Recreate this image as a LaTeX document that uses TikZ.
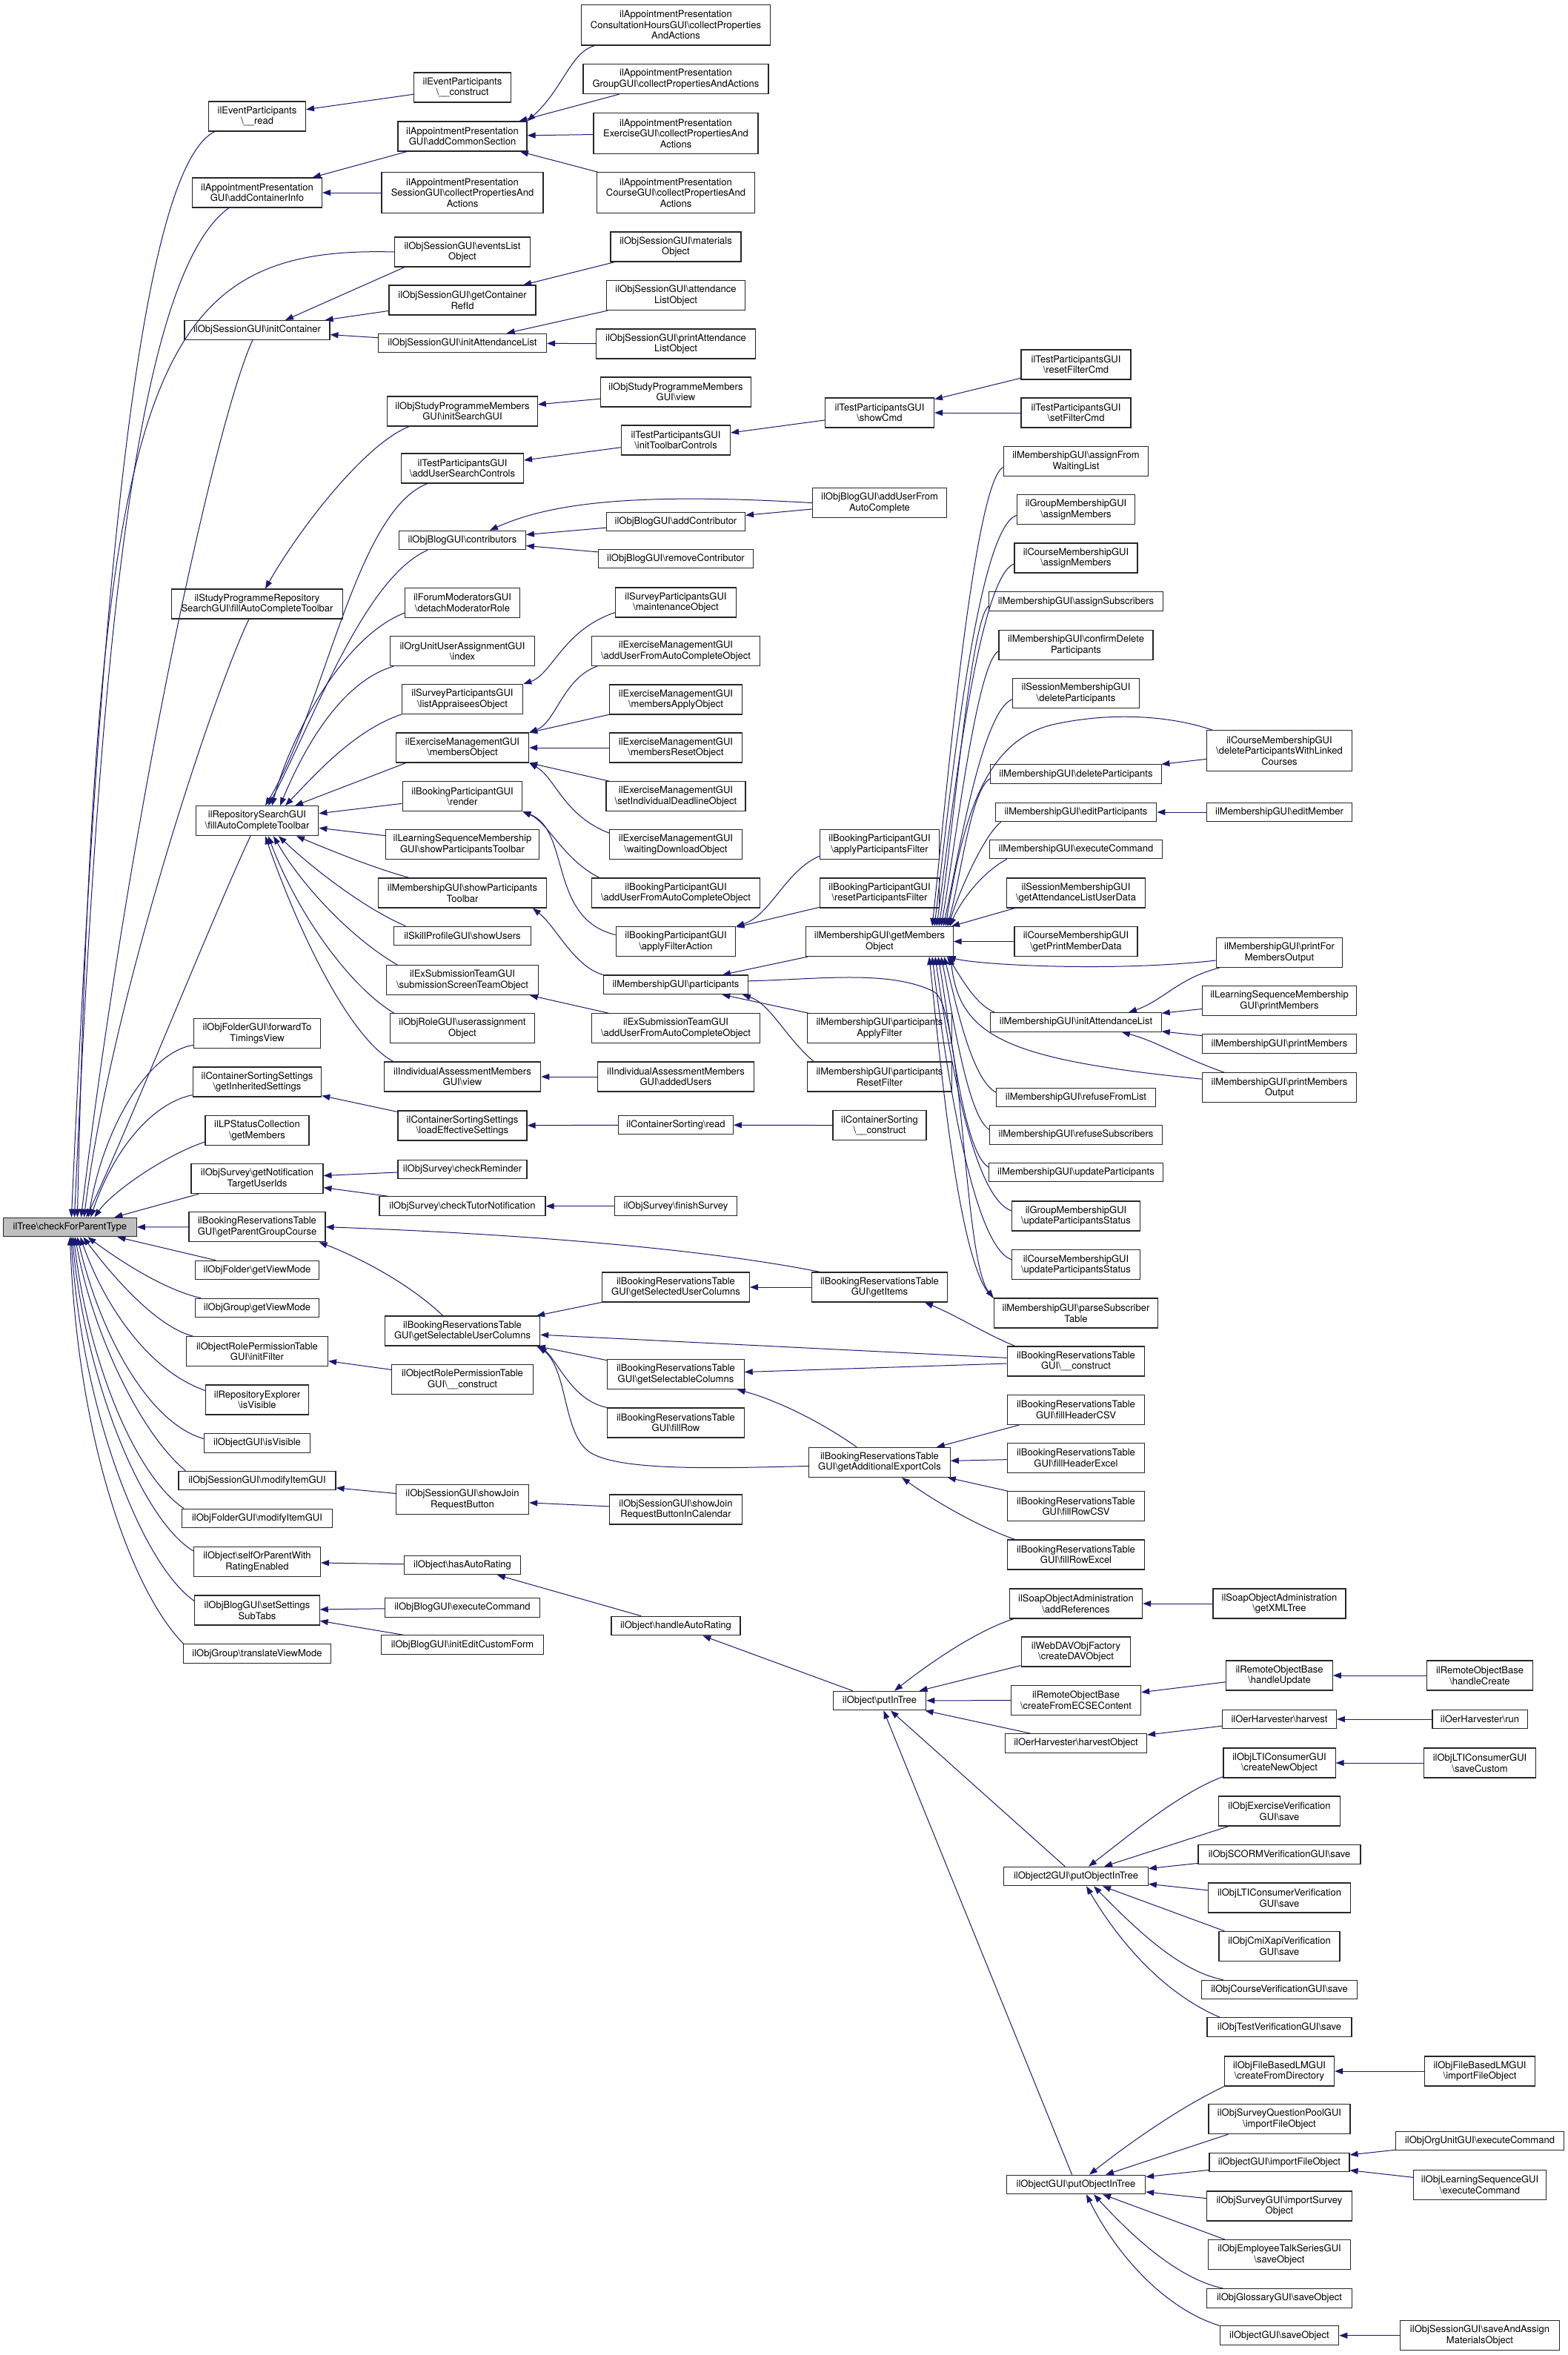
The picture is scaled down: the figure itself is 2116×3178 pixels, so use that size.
\documentclass[tikz,border=0pt]{standalone}
\usepackage{fontspec}
\setmainfont{TeX Gyre Heros}
\usetikzlibrary{arrows.meta,calc}
\newcommand{\bsl}{\textbackslash}
\definecolor{edgeblue}{RGB}{25,25,112}
\definecolor{rootgray}{RGB}{191,191,191}
\newcommand{\nd}[6]{\node[box,#5,minimum width=#4pt] (#1) at (#2,-#3) {#6};}
\begin{document}
\begin{tikzpicture}[x=1pt,y=1pt,
  box/.style={draw=black!85, line width=1.1pt, fill=white, inner xsep=4pt, inner ysep=2pt, align=center, font=\fontsize{13}{14.5}\selectfont},
  n1/.style={minimum height=25.6pt},
  n2/.style={minimum height=40pt},
  n3/.style={minimum height=54.5pt},
  e/.style={draw=edgeblue, line width=1pt, >={Triangle[length=11pt,width=8pt]}, <-},
]
\fill[white] (0,0) rectangle (2116,-3178);
\useasboundingbox (0,0) rectangle (2116,-3178);

% column 1
\nd{root}{94.4}{1656}{179.8}{n1,fill=rootgray}{ilTree\bsl checkForParentType}
% column 2
\nd{EvRead}{347}{157}{131}{n2}{ilEventParticipants\\\bsl\_\_read}
\nd{AddContainer}{347}{260}{175}{n2}{ilAppointmentPresentation\\GUI\bsl addContainerInfo}
\nd{InitContainer}{347}{445.3}{196}{n1}{ilObjSessionGUI\bsl initContainer}
\nd{StudyProgRepoSearch}{347}{815}{231}{n2}{ilStudyProgrammeRepository\\SearchGUI\bsl fillAutoCompleteToolbar}
\nd{RepoSearchFill}{347}{1107.7}{165.7}{n2}{ilRepositorySearchGUI\\\bsl fillAutoCompleteToolbar}
\nd{FolderForward}{347}{1394.7}{171}{n2}{ilObjFolderGUI\bsl forwardTo\\TimingsView}
\nd{ContSortInherited}{347}{1460}{173.4}{n2}{ilContainerSortingSettings\\\bsl getInheritedSettings}
\nd{LPStatusGetMembers}{347}{1525.4}{140}{n2}{ilLPStatusCollection\\\bsl getMembers}
\nd{SurveyGetNotification}{347}{1590.6}{178}{n2}{ilObjSurvey\bsl getNotification\\TargetUserIds}
\nd{BookingGetParentGroup}{347}{1655.7}{184}{n2}{ilBookingReservationsTable\\GUI\bsl getParentGroupCourse}
\nd{FolderGetViewMode}{347}{1714}{167}{n1}{ilObjFolder\bsl getViewMode}
\nd{GroupGetViewMode}{347}{1765}{167}{n1}{ilObjGroup\bsl getViewMode}
\nd{ObjRolePermInitFilter}{347}{1823.5}{191}{n2}{ilObjectRolePermissionTable\\GUI\bsl initFilter}
\nd{RepoExplorerIsVisible}{347}{1889}{139}{n2}{ilRepositoryExplorer\\\bsl isVisible}
\nd{ObjectGUIIsVisible}{347}{1947.5}{143.5}{n1}{ilObjectGUI\bsl isVisible}
\nd{SessionModifyItem}{347}{1998}{212}{n1}{ilObjSessionGUI\bsl modifyItemGUI}
\nd{FolderModifyItem}{347}{2049}{202.4}{n1}{ilObjFolderGUI\bsl modifyItemGUI}
\nd{ObjectSelfOrParent}{347}{2107.6}{171}{n2}{ilObject\bsl selfOrParentWith\\RatingEnabled}
\nd{BlogSetSettingsSubTabs}{347}{2173}{168.4}{n2}{ilObjBlogGUI\bsl setSettings\\SubTabs}
\nd{GroupTranslateViewMode}{347}{2231.6}{199.5}{n1}{ilObjGroup\bsl translateViewMode}
% column 3
\nd{EvConstruct}{624}{118}{131}{n2}{ilEventParticipants\\\bsl\_\_construct}
\nd{AddCommon}{624}{184}{174}{n2}{ilAppointmentPresentation\\GUI\bsl addCommonSection}
\nd{SessionCollect}{624}{260}{218}{n3}{ilAppointmentPresentation\\SessionGUI\bsl collectPropertiesAnd\\Actions}
\nd{EventsList}{624}{340}{183}{n2}{ilObjSessionGUI\bsl eventsList\\Object}
\nd{GetContainerRef}{624}{405}{198}{n2}{ilObjSessionGUI\bsl getContainer\\RefId}
\nd{InitAttendance}{624}{463}{227}{n1}{ilObjSessionGUI\bsl initAttendanceList}
\nd{StudyProgMembers}{624}{555}{202.5}{n2}{ilObjStudyProgrammeMembers\\GUI\bsl initSearchGUI}
\nd{TestAddUserSearch}{624}{632}{165}{n2}{ilTestParticipantsGUI\\\bsl addUserSearchControls}
\nd{BlogContributors}{624}{729}{170.6}{n1}{ilObjBlogGUI\bsl contributors}
\nd{ForumDetach}{624}{813.5}{154.5}{n2}{ilForumModeratorsGUI\\\bsl detachModeratorRole}
\nd{OrgUnitIndex}{624}{878.6}{194.7}{n2}{ilOrgUnitUserAssignmentGUI\\\bsl index}
\nd{SurveyListAppraisees}{624}{943.5}{163.5}{n2}{ilSurveyParticipantsGUI\\\bsl listAppraiseesObject}
\nd{ExMembersObject}{624}{1009}{179.3}{n2}{ilExerciseManagementGUI\\\bsl membersObject}
\nd{BookingRender}{624}{1074.6}{161.6}{n2}{ilBookingParticipantGUI\\\bsl render}
\nd{LSMShowToolbar}{624}{1139.7}{207}{n2}{ilLearningSequenceMembership\\GUI\bsl showParticipantsToolbar}
\nd{MemShowToolbar}{624}{1205}{226.7}{n2}{ilMembershipGUI\bsl showParticipants\\Toolbar}
\nd{SkillShowUsers}{624}{1263}{184.2}{n1}{ilSkillProfileGUI\bsl showUsers}
\nd{ExSubmissionScreen}{624}{1322.6}{204.2}{n2}{ilExSubmissionTeamGUI\\\bsl submissionScreenTeamObject}
\nd{RoleUserassign}{624}{1387.7}{195.3}{n2}{ilObjRoleGUI\bsl userassignment\\Object}
\nd{IndivView}{624}{1453}{211.4}{n2}{ilIndividualAssessmentMembers\\GUI\bsl view}
\nd{ContSortLoadEffective}{624}{1519}{174}{n2}{ilContainerSortingSettings\\\bsl loadEffectiveSettings}
\nd{SurveyCheckReminder}{624}{1578}{174}{n1}{ilObjSurvey\bsl checkReminder}
\nd{SurveyCheckTutor}{624}{1627.7}{224}{n1}{ilObjSurvey\bsl checkTutorNotification}
\nd{BookingGetSelectableUser}{624}{1796}{209.5}{n2}{ilBookingReservationsTable\\GUI\bsl getSelectableUserColumns}
\nd{ObjRolePermConstruct}{624}{1861.5}{191.2}{n2}{ilObjectRolePermissionTable\\GUI\bsl\_\_construct}
\nd{SessionShowJoin}{624}{2023.7}{179.3}{n2}{ilObjSessionGUI\bsl showJoin\\RequestButton}
\nd{ObjectHasAutoRating}{624}{2112}{156.2}{n1}{ilObject\bsl hasAutoRating}
\nd{BlogExecuteCommand}{624}{2169.4}{209}{n1}{ilObjBlogGUI\bsl executeCommand}
\nd{BlogInitEditCustom}{624}{2219.7}{219}{n1}{ilObjBlogGUI\bsl initEditCustomForm}
% column 4
\nd{ConsultCollect}{912}{33.7}{255}{n3}{ilAppointmentPresentation\\ConsultationHoursGUI\bsl collectProperties\\AndActions}
\nd{GroupCollect}{912}{106.6}{250}{n2}{ilAppointmentPresentation\\GroupGUI\bsl collectPropertiesAndActions}
\nd{ExerciseCollect}{912}{180}{222}{n3}{ilAppointmentPresentation\\ExerciseGUI\bsl collectPropertiesAnd\\Actions}
\nd{CourseCollect}{912}{260}{212.4}{n3}{ilAppointmentPresentation\\CourseGUI\bsl collectPropertiesAnd\\Actions}
\nd{MaterialsObj}{912}{333}{176}{n2}{ilObjSessionGUI\bsl materials\\Object}
\nd{AttendanceListObj}{912}{398.5}{187}{n2}{ilObjSessionGUI\bsl attendance\\ListObject}
\nd{PrintAttendance}{912}{464}{215}{n2}{ilObjSessionGUI\bsl printAttendance\\ListObject}
\nd{StudyProgView}{912}{529}{203}{n2}{ilObjStudyProgrammeMembers\\GUI\bsl view}
\nd{TestInitToolbar}{912}{594}{147}{n2}{ilTestParticipantsGUI\\\bsl initToolbarControls}
\nd{BlogAddContributor}{912}{704}{187}{n1}{ilObjBlogGUI\bsl addContributor}
\nd{BlogRemoveContributor}{912}{754}{209}{n1}{ilObjBlogGUI\bsl removeContributor}
\nd{SurveyMaintenance}{912}{813}{163}{n2}{ilSurveyParticipantsGUI\\\bsl maintenanceObject}
\nd{ExAddUserFromAuto}{912}{878.6}{227}{n2}{ilExerciseManagementGUI\\\bsl addUserFromAutoCompleteObject}
\nd{ExMembersApply}{912}{944}{179}{n2}{ilExerciseManagementGUI\\\bsl membersApplyObject}
\nd{ExMembersReset}{912}{1009}{179}{n2}{ilExerciseManagementGUI\\\bsl membersResetObject}
\nd{ExSetDeadline}{912}{1074.6}{188}{n2}{ilExerciseManagementGUI\\\bsl setIndividualDeadlineObject}
\nd{ExWaitingDownload}{912}{1139.7}{179}{n2}{ilExerciseManagementGUI\\\bsl waitingDownloadObject}
\nd{BookingAddUserFromAuto}{912}{1205}{227}{n2}{ilBookingParticipantGUI\\\bsl addUserFromAutoCompleteObject}
\nd{BookingApplyFilterAction}{912}{1270.5}{161.7}{n2}{ilBookingParticipantGUI\\\bsl applyFilterAction}
\nd{MemParticipants}{912}{1328.8}{194.7}{n1}{ilMembershipGUI\bsl participants}
\nd{ExSubmissionAddUser}{912}{1387.7}{227}{n2}{ilExSubmissionTeamGUI\\\bsl addUserFromAutoCompleteObject}
\nd{IndivAddedUsers}{912}{1453}{211}{n2}{ilIndividualAssessmentMembers\\GUI\bsl addedUsers}
\nd{ContSortRead}{912}{1518}{154.8}{n1}{ilContainerSorting\bsl read}
\nd{SurveyFinishSurvey}{912}{1627.7}{165.2}{n1}{ilObjSurvey\bsl finishSurvey}
\nd{BookingGetSelectedUser}{912}{1737}{198.8}{n2}{ilBookingReservationsTable\\GUI\bsl getSelectedUserColumns}
\nd{BookingGetSelectableColumns}{912}{1854.5}{184.3}{n2}{ilBookingReservationsTable\\GUI\bsl getSelectableColumns}
\nd{BookingFillRow}{912}{1920}{184.3}{n2}{ilBookingReservationsTable\\GUI\bsl fillRow}
\nd{SessionShowJoinCal}{912}{2037}{179}{n2}{ilObjSessionGUI\bsl showJoin\\RequestButtonInCalendar}
\nd{ObjectHandleAutoRating}{912}{2194}{174}{n1}{ilObject\bsl handleAutoRating}
% column 5
\nd{TestShowCmd}{1187}{557}{147}{n2}{ilTestParticipantsGUI\\\bsl showCmd}
\nd{BlogAddUserFrom}{1187}{678.6}{181.4}{n2}{ilObjBlogGUI\bsl addUserFrom\\AutoComplete}
\nd{BookingApplyPartFilter}{1187}{1139.7}{161.2}{n2}{ilBookingParticipantGUI\\\bsl applyParticipantsFilter}
\nd{BookingResetPartFilter}{1187}{1205}{161.2}{n2}{ilBookingParticipantGUI\\\bsl resetParticipantsFilter}
\nd{MemGetMembersObject}{1187}{1270.5}{198.3}{n2}{ilMembershipGUI\bsl getMembers\\Object}
\nd{MemPartApplyFilter}{1187}{1387.7}{194.6}{n2}{ilMembershipGUI\bsl participants\\ApplyFilter}
\nd{MemPartResetFilter}{1187}{1453}{194.6}{n2}{ilMembershipGUI\bsl participants\\ResetFilter}
\nd{ContSortConstruct}{1187}{1518.7}{126}{n2}{ilContainerSorting\\\bsl\_\_construct}
\nd{BookingGetItems}{1187}{1737}{183.7}{n2}{ilBookingReservationsTable\\GUI\bsl getItems}
\nd{BookingGetAdditionalExport}{1187}{1973.4}{190.6}{n2}{ilBookingReservationsTable\\GUI\bsl getAdditionalExportCols}
\nd{ObjectPutInTree}{1187}{2295}{125.4}{n1}{ilObject\bsl putInTree}
% column 6
\nd{TestResetFilter}{1452}{492}{148}{n2}{ilTestParticipantsGUI\\\bsl resetFilterCmd}
\nd{TestSetFilter}{1452}{557}{148}{n2}{ilTestParticipantsGUI\\\bsl setFilterCmd}
\nd{MemAssignFromWaiting}{1452}{622.5}{195}{n2}{ilMembershipGUI\bsl assignFrom\\WaitingList}
\nd{GroupAssignMembers}{1452}{687.5}{159}{n2}{ilGroupMembershipGUI\\\bsl assignMembers}
\nd{CourseAssignMembers}{1452}{753}{166}{n2}{ilCourseMembershipGUI\\\bsl assignMembers}
\nd{MemAssignSubscribers}{1452}{811.7}{234.6}{n1}{ilMembershipGUI\bsl assignSubscribers}
\nd{MemConfirmDelete}{1452}{870.5}{208}{n2}{ilMembershipGUI\bsl confirmDelete\\Participants}
\nd{SessionDeleteParticipants}{1452}{935.6}{171}{n2}{ilSessionMembershipGUI\\\bsl deleteParticipants}
\nd{MemDeleteParticipants}{1452}{1044.7}{230.4}{n1}{ilMembershipGUI\bsl deleteParticipants}
\nd{MemEditParticipants}{1452}{1096}{217.7}{n1}{ilMembershipGUI\bsl editParticipants}
\nd{MemExecuteCommand}{1452}{1146}{233.2}{n1}{ilMembershipGUI\bsl executeCommand}
\nd{SessionGetAttendance}{1452}{1205}{186.2}{n2}{ilSessionMembershipGUI\\\bsl getAttendanceListUserData}
\nd{CourseGetPrint}{1452}{1270.5}{166}{n2}{ilCourseMembershipGUI\\\bsl getPrintMemberData}
\nd{MemInitAttendance}{1452}{1379.5}{230.4}{n1}{ilMembershipGUI\bsl initAttendanceList}
\nd{MemRefuseFromList}{1452}{1481}{215}{n1}{ilMembershipGUI\bsl refuseFromList}
\nd{MemRefuseSubscribers}{1452}{1531.4}{232.7}{n1}{ilMembershipGUI\bsl refuseSubscribers}
\nd{MemUpdateParticipants}{1452}{1582}{234.6}{n1}{ilMembershipGUI\bsl updateParticipants}
\nd{GroupUpdatePartStatus}{1452}{1641}{172.3}{n2}{ilGroupMembershipGUI\\\bsl updateParticipantsStatus}
\nd{CourseUpdatePartStatus}{1452}{1706.8}{172.3}{n2}{ilCourseMembershipGUI\\\bsl updateParticipantsStatus}
\nd{MemParseSubscriber}{1452}{1772}{221.5}{n2}{ilMembershipGUI\bsl parseSubscriber\\Table}
\nd{BookingConstruct}{1452}{1837}{185.5}{n2}{ilBookingReservationsTable\\GUI\bsl\_\_construct}
\nd{BookingFillHeaderCSV}{1452}{1902.5}{185.5}{n2}{ilBookingReservationsTable\\GUI\bsl fillHeaderCSV}
\nd{BookingFillHeaderExcel}{1452}{1967.6}{185.5}{n2}{ilBookingReservationsTable\\GUI\bsl fillHeaderExcel}
\nd{BookingFillRowCSV}{1452}{2032.7}{185.5}{n2}{ilBookingReservationsTable\\GUI\bsl fillRowCSV}
\nd{BookingFillRowExcel}{1452}{2098}{185.5}{n2}{ilBookingReservationsTable\\GUI\bsl fillRowExcel}
\nd{SoapAddReferences}{1452}{2164}{179}{n2}{ilSoapObjectAdministration\\\bsl addReferences}
\nd{WebDAVCreate}{1452}{2229}{147.8}{n2}{ilWebDAVObjFactory\\\bsl createDAVObject}
\nd{RemoteCreateFromECS}{1452}{2294.4}{175.2}{n2}{ilRemoteObjectBase\\\bsl createFromECSEContent}
\nd{OerHarvestObject}{1452}{2352.5}{191}{n1}{ilOerHarvester\bsl harvestObject}
\nd{Object2GUIPutObjectInTree}{1452}{2532}{194.6}{n1}{ilObject2GUI\bsl putObjectInTree}
\nd{ObjectGUIPutObjectInTree}{1452}{2947.9}{187.2}{n1}{ilObjectGUI\bsl putObjectInTree}
% column 7
\nd{CourseDeleteLinked}{1726.5}{1013}{195.4}{n3}{ilCourseMembershipGUI\\\bsl deleteParticipantsWithLinked\\Courses}
\nd{MemEditMember}{1726.5}{1096}{195.4}{n1}{ilMembershipGUI\bsl editMember}
\nd{MemPrintForMembers}{1726.5}{1285.5}{170.8}{n2}{ilMembershipGUI\bsl printFor\\MembersOutput}
\nd{LSMPrintMembers}{1726.5}{1350.5}{207.2}{n2}{ilLearningSequenceMembership\\GUI\bsl printMembers}
\nd{MemPrintMembers}{1726.5}{1408.7}{207.2}{n1}{ilMembershipGUI\bsl printMembers}
\nd{MemPrintMembersOutput}{1726.5}{1467.8}{207.2}{n2}{ilMembershipGUI\bsl printMembers\\Output}
\nd{SoapGetXMLTree}{1726.5}{2164}{179}{n2}{ilSoapObjectAdministration\\\bsl getXMLTree}
\nd{RemoteHandleUpdate}{1726.5}{2261}{143.7}{n2}{ilRemoteObjectBase\\\bsl handleUpdate}
\nd{OerHarvest}{1726.5}{2320}{153.7}{n1}{ilOerHarvester\bsl harvest}
\nd{LTICreateNew}{1726.5}{2379}{151.1}{n2}{ilObjLTIConsumerGUI\\\bsl createNewObject}
\nd{ExerciseVerifSave}{1726.5}{2444}{164.4}{n2}{ilObjExerciseVerification\\GUI\bsl save}
\nd{SCORMVerifSave}{1726.5}{2502.7}{219}{n1}{ilObjSCORMVerificationGUI\bsl save}
\nd{LTIVerifSave}{1726.5}{2561}{192.2}{n2}{ilObjLTIConsumerVerification\\GUI\bsl save}
\nd{CmiXapiVerifSave}{1726.5}{2626.4}{163}{n2}{ilObjCmiXapiVerification\\GUI\bsl save}
\nd{CourseVerifSave}{1726.5}{2685}{210.5}{n1}{ilObjCourseVerificationGUI\bsl save}
\nd{TestVerifSave}{1726.5}{2735.7}{195}{n1}{ilObjTestVerificationGUI\bsl save}
\nd{FileBasedCreateFromDir}{1726.5}{2795}{148}{n2}{ilObjFileBasedLMGUI\\\bsl createFromDirectory}
\nd{SurveyQPImport}{1726.5}{2859.6}{191}{n2}{ilObjSurveyQuestionPoolGUI\\\bsl importFileObject}
\nd{ObjectGUIImportFile}{1726.5}{2918}{189}{n1}{ilObjectGUI\bsl importFileObject}
\nd{SurveyImportSurvey}{1726.5}{2977}{195.4}{n2}{ilObjSurveyGUI\bsl importSurvey\\Object}
\nd{EmployeeTalkSave}{1726.5}{3042.6}{192.2}{n2}{ilObjEmployeeTalkSeriesGUI\\\bsl saveObject}
\nd{GlossarySave}{1726.5}{3101.4}{195.2}{n1}{ilObjGlossaryGUI\bsl saveObject}
\nd{ObjectGUISaveObject}{1726.5}{3151.7}{160.4}{n1}{ilObjectGUI\bsl saveObject}
% column 8
\nd{RemoteHandleCreate}{1997}{2261}{143}{n2}{ilRemoteObjectBase\\\bsl handleCreate}
\nd{OerRun}{1997}{2320}{128.1}{n1}{ilOerHarvester\bsl run}
\nd{LTISaveCustom}{1997}{2379}{151.1}{n2}{ilObjLTIConsumerGUI\\\bsl saveCustom}
\nd{FileBasedImport}{1997}{2795}{148.4}{n2}{ilObjFileBasedLMGUI\\\bsl importFileObject}
\nd{OrgUnitExecute}{1997}{2889}{227}{n1}{ilObjOrgUnitGUI\bsl executeCommand}
\nd{LSExecute}{1997}{2948.4}{179}{n2}{ilObjLearningSequenceGUI\\\bsl executeCommand}
\nd{SessionSaveAndAssign}{1997}{3151.7}{215}{n2}{ilObjSessionGUI\bsl saveAndAssign\\MaterialsObject}

% ---------- edges into root ----------
\draw[e] ($(root.north)+(2,0)$) .. controls (130,-900) and (180,-230) .. ($(EvRead.south west)+(9,0)$);
\draw[e] ($(root.north)+(6,0)$) .. controls (130,-1000) and (170,-380) .. ($(AddContainer.south west)+(50,0)$);
\draw[e] ($(root.north)+(10,0)$) .. controls (130,-500) and (200,-331) .. (EventsList.west);
\draw[e] ($(root.north)+(15,0)$) .. controls (175,-1100) and (290,-570) .. ($(InitContainer.south)+(-6,0)$);
\draw[e] ($(root.north)+(19,0)$) .. controls (150,-1350) and (290,-930) .. ($(StudyProgRepoSearch.south)+(-11,0)$);
\draw[e] ($(root.north)+(22,0)$) .. controls (170,-1530) and (290,-1230) .. ($(RepoSearchFill.south)+(-9,0)$);
\draw[e] ($(root.north)+(25,0)$) .. controls (140,-1520) and (200,-1420) .. ($(FolderForward.south west)+(0,5)$);
\draw[e] ($(root.north)+(28,0)$) .. controls (150,-1560) and (200,-1490) .. ($(ContSortInherited.south west)+(0,3)$);
\draw[e] ($(root.north)+(33,0)$) .. controls (150,-1610) and (220,-1560) .. ($(LPStatusGetMembers.south west)+(0,5)$);
\draw[e] ($(root.north)+(60,0)$) -- ($(SurveyGetNotification.south west)+(11,0)$);
\draw[e] (root) -- (BookingGetParentGroup);
\draw[e] ($(root.south)+(64,0)$) -- ($(FolderGetViewMode.north west)+(28,0)$);
\draw[e] ($(root.south)+(24,0)$) .. controls (160,-1700) and (220,-1740) .. ($(GroupGetViewMode.north west)+(8,0)$);
\draw[e] ($(root.south)+(18,0)$) .. controls (150,-1720) and (210,-1790) .. ($(ObjRolePermInitFilter.north west)+(9,0)$);
\draw[e] ($(root.south)+(14,0)$) .. controls (140,-1760) and (200,-1850) .. ($(RepoExplorerIsVisible.north west)+(0,-8)$);
\draw[e] ($(root.south)+(10,0)$) .. controls (135,-1800) and (200,-1920) .. ($(ObjectGUIIsVisible.west)+(0,6)$);
\draw[e] ($(root.south)+(7,0)$) .. controls (125,-1800) and (190,-1935) .. ($(SessionModifyItem.north west)+(10,0)$);
\draw[e] ($(root.south)+(5,0)$) .. controls (118,-1830) and (180,-1990) .. ($(FolderModifyItem.north west)+(3,0)$);
\draw[e] ($(root.south)+(3,0)$) .. controls (115,-1860) and (190,-2050) .. ($(ObjectSelfOrParent.north west)+(0,-6)$);
\draw[e] ($(root.south)+(1.5,0)$) .. controls (110,-1900) and (190,-2110) .. ($(BlogSetSettingsSubTabs.north west)+(0,-8)$);
\draw[e] (root.south) .. controls (105,-1950) and (180,-2150) .. ($(GroupTranslateViewMode.north west)+(1,0)$);

% ---------- column 2 <- column 3 ----------
\draw[e] (EvRead) -- (EvConstruct);
\draw[e] (AddContainer) -- (AddCommon);
\draw[e] (AddContainer) -- (SessionCollect);
\draw[e] (AddCommon.north east) .. controls (760,-120) and (770,-70) .. ($(ConsultCollect.south west)+(19,0)$);
\draw[e] (AddCommon) -- (GroupCollect);
\draw[e] (AddCommon) -- (ExerciseCollect);
\draw[e] (AddCommon) -- (CourseCollect);
\draw[e] ($(InitContainer.north)+(38,0)$) -- ($(EventsList.south west)+(14,0)$);
\draw[e] (InitContainer) -- (GetContainerRef);
\draw[e] (InitContainer) -- (InitAttendance);
\draw[e] (GetContainerRef) -- (MaterialsObj);
\draw[e] (InitAttendance) -- (AttendanceListObj);
\draw[e] (InitAttendance) -- (PrintAttendance);
\draw[e] ($(StudyProgRepoSearch.north)+(11,0)$) .. controls (400,-720) and (490,-600) .. ($(StudyProgMembers.south west)+(30,0)$);
\draw[e] (StudyProgMembers) -- (StudyProgView);
\draw[e] ($(RepoSearchFill.north)+(11,0)$) .. controls (440,-950) and (480,-690) .. ($(TestAddUserSearch.south west)+(36,0)$);
\draw[e] ($(RepoSearchFill.north)+(15,0)$) .. controls (420,-980) and (490,-780) .. ($(BlogContributors.south west)+(39,0)$);
\draw[e] ($(RepoSearchFill.north)+(20,0)$) .. controls (390,-1000) and (460,-860) .. ($(ForumDetach.south west)+(0,7)$);
\draw[e] ($(RepoSearchFill.north)+(31,0)$) .. controls (410,-1010) and (460,-920) .. ($(OrgUnitIndex.south west)+(5,0)$);
\draw[e] ($(RepoSearchFill.north)+(38,0)$) .. controls (430,-1040) and (480,-985) .. (SurveyListAppraisees.south west);
\draw[e] ($(RepoSearchFill.north)+(51,0)$) -- ($(ExMembersObject.south west)+(14,0)$);
\draw[e] (RepoSearchFill) -- (BookingRender);
\draw[e] (RepoSearchFill) -- (LSMShowToolbar);
\draw[e] ($(RepoSearchFill.south)+(53,0)$) .. controls (440,-1145) and (500,-1170) .. ($(MemShowToolbar.north west)+(42,0)$);
\draw[e] ($(RepoSearchFill.south)+(29,0)$) .. controls (420,-1170) and (490,-1225) .. ($(SkillShowUsers.north west)+(16,0)$);
\draw[e] ($(RepoSearchFill.south)+(22,0)$) .. controls (410,-1200) and (480,-1270) .. ($(ExSubmissionScreen.north west)+(15,0)$);
\draw[e] ($(RepoSearchFill.south)+(15,0)$) .. controls (400,-1230) and (470,-1330) .. ($(RoleUserassign.north west)+(6,0)$);
\draw[e] ($(RepoSearchFill.south)+(11,0)$) .. controls (400,-1250) and (470,-1400) .. ($(IndivView.north west)+(13,0)$);
\draw[e] (ContSortInherited) -- (ContSortLoadEffective);
\draw[e] (SurveyGetNotification) -- (SurveyCheckReminder);
\draw[e] (SurveyGetNotification) -- (SurveyCheckTutor);
\draw[e] (BookingGetParentGroup.east) .. controls (700,-1665) and (950,-1685) .. ($(BookingGetItems.north west)+(12,0)$);
\draw[e] ($(BookingGetParentGroup.south east)+(-9,0)$) .. controls (480,-1695) and (550,-1730) .. ($(BookingGetSelectableUser.north west)+(79,0)$);
\draw[e] (ObjRolePermInitFilter) -- (ObjRolePermConstruct);
\draw[e] (SessionModifyItem) -- (SessionShowJoin);
\draw[e] (ObjectSelfOrParent) -- (ObjectHasAutoRating);
\draw[e] (BlogSetSettingsSubTabs) -- (BlogExecuteCommand);
\draw[e] (BlogSetSettingsSubTabs) -- (BlogInitEditCustom);

% ---------- column 3 <- column 4 ----------
\draw[e] (TestAddUserSearch) -- (TestInitToolbar);
\draw[e] ($(BlogContributors.north)+(37,0)$) .. controls (740,-680) and (850,-664) .. (BlogAddUserFrom.west);
\draw[e] (BlogContributors) -- (BlogAddContributor);
\draw[e] (BlogContributors) -- (BlogRemoveContributor);
\draw[e] (SurveyListAppraisees.north east) .. controls (745,-910) and (760,-850) .. ($(SurveyMaintenance.south west)+(0,7)$);
\draw[e] (ExMembersObject.north east) .. controls (750,-975) and (760,-915) .. ($(ExAddUserFromAuto.south west)+(8,0)$);
\draw[e] (ExMembersObject) -- (ExMembersApply);
\draw[e] (ExMembersObject) -- (ExMembersReset);
\draw[e] (ExMembersObject) -- (ExSetDeadline);
\draw[e] (ExMembersObject.south east) .. controls (750,-1050) and (760,-1100) .. ($(ExWaitingDownload.north west)+(0,-5)$);
\draw[e] (BookingRender.south east) .. controls (740,-1110) and (760,-1160) .. ($(BookingAddUserFromAuto.north west)+(11,0)$);
\draw[e] (BookingRender.south east) .. controls (770,-1120) and (740,-1240) .. ($(BookingApplyFilterAction.west)+(0,9)$);
\draw[e] ($(MemShowToolbar.south east)+(-19,0)$) .. controls (750,-1250) and (775,-1305) .. (MemParticipants.north west);
\draw[e] (ExSubmissionScreen) -- (ExSubmissionAddUser);
\draw[e] (IndivView) -- (IndivAddedUsers);
\draw[e] (ContSortLoadEffective) -- (ContSortRead);
\draw[e] (SurveyCheckTutor) -- (SurveyFinishSurvey);
\draw[e] (BookingGetSelectableUser) -- (BookingGetSelectedUser);
\draw[e] (BookingGetSelectableUser) -- (BookingConstruct);
\draw[e] (BookingGetSelectableUser) -- (BookingGetSelectableColumns);
\draw[e] ($(BookingGetSelectableUser.south east)+(-5,0)$) .. controls (750,-1830) and (770,-1890) .. (BookingFillRow.north west);
\draw[e] ($(BookingGetSelectableUser.south east)+(-2,0)$) .. controls (765,-1850) and (760,-1925) .. (790,-1955) .. controls (820,-1985) and (950,-1982) .. ($(BookingGetAdditionalExport.west)+(0,-5)$);
\draw[e] (SessionShowJoin) -- (SessionShowJoinCal);
\draw[e] (ObjectHasAutoRating) -- (ObjectHandleAutoRating);

% ---------- column 4 <- column 5 ----------
\draw[e] (TestInitToolbar) -- (TestShowCmd);
\draw[e] (BlogAddContributor) -- (BlogAddUserFrom);
\draw[e] (BookingApplyFilterAction.north east) .. controls (1040,-1235) and (1060,-1175) .. ($(BookingApplyPartFilter.south west)+(0,5)$);
\draw[e] (BookingApplyFilterAction) -- (BookingResetPartFilter);
\draw[e] (MemParticipants) -- (MemGetMembersObject);
\draw[e] (MemParticipants) -- (MemPartApplyFilter);
\draw[e] ($(MemParticipants.south east)+(-8,0)$) .. controls (1040,-1355) and (1060,-1400) .. ($(MemPartResetFilter.north west)+(9,0)$);
\draw[e] (ContSortRead) -- (ContSortConstruct);
\draw[e] (BookingGetSelectedUser) -- (BookingGetItems);
\draw[e] (BookingGetSelectableColumns) -- (BookingConstruct);
\draw[e] ($(BookingGetSelectableColumns.south east)+(-10,0)$) .. controls (1050,-1890) and (1110,-1920) .. ($(BookingGetAdditionalExport.north west)+(65,0)$);
\draw[e] (ObjectHandleAutoRating) -- (ObjectPutInTree);

% ---------- column 5 <- column 6 ----------
\draw[e] (TestShowCmd) -- (TestResetFilter);
\draw[e] (TestShowCmd) -- (TestSetFilter);
\draw[e] ($(BookingGetItems.south)+(61,0)$) .. controls (1290,-1775) and (1330,-1800) .. ($(BookingConstruct.north west)+(11,0)$);
\draw[e] (BookingGetAdditionalExport) -- (BookingFillHeaderCSV);
\draw[e] (BookingGetAdditionalExport) -- (BookingFillHeaderExcel);
\draw[e] (BookingGetAdditionalExport) -- (BookingFillRowCSV);
\draw[e] ($(BookingGetAdditionalExport.south)+(30,0)$) .. controls (1260,-2025) and (1320,-2060) .. ($(BookingFillRowExcel.north west)+(11,0)$);
\draw[e] ($(ObjectPutInTree.north)+(20,0)$) .. controls (1260,-2240) and (1320,-2200) .. ($(SoapAddReferences.south west)+(6,0)$);
\draw[e] (ObjectPutInTree) -- (WebDAVCreate);
\draw[e] (ObjectPutInTree) -- (RemoteCreateFromECS);
\draw[e] (ObjectPutInTree) -- (OerHarvestObject);
\draw[e] (ObjectPutInTree) -- (Object2GUIPutObjectInTree);
\draw[e] (ObjectPutInTree) -- (ObjectGUIPutObjectInTree);
% getMembersObject fan (upper)
\draw[e] ($(MemGetMembersObject.north)+(71,0)$) .. controls (1278,-1062) and (1315,-648) .. ($(MemAssignFromWaiting.west)+(0,-8)$);
\draw[e] ($(MemGetMembersObject.north)+(74,0)$) .. controls (1281,-1081) and (1318,-712) .. ($(GroupAssignMembers.west)+(0,-8)$);
\draw[e] ($(MemGetMembersObject.north)+(77,0)$) .. controls (1284,-1101) and (1320,-778) .. ($(CourseAssignMembers.west)+(0,-8)$);
\draw[e] ($(MemGetMembersObject.north)+(80,0)$) .. controls (1287,-1118) and (1310,-836) .. ($(MemAssignSubscribers.west)+(0,-6)$);
\draw[e] ($(MemGetMembersObject.north)+(83,0)$) .. controls (1290,-1136) and (1318,-895) .. ($(MemConfirmDelete.west)+(0,-8)$);
\draw[e] ($(MemGetMembersObject.north)+(86,0)$) .. controls (1293,-1156) and (1325,-960) .. ($(SessionDeleteParticipants.west)+(0,-8)$);
\draw[e] ($(MemGetMembersObject.north)+(89,0)$) .. controls (1300,-1100) and (1330,-1000) .. (1420,-978) .. controls (1500,-960) and (1580,-966) .. ($(CourseDeleteLinked.north west)+(8,0)$);
\draw[e] ($(MemGetMembersObject.north)+(91,0)$) .. controls (1296,-1188) and (1310,-1065) .. ($(MemDeleteParticipants.west)+(0,-6)$);
\draw[e] ($(MemGetMembersObject.north)+(93,0)$) .. controls (1290,-1215) and (1325,-1130) .. ($(MemEditParticipants.south west)+(8,0)$);
\draw[e] ($(MemGetMembersObject.north)+(95,0)$) .. controls (1292,-1225) and (1320,-1180) .. ($(MemExecuteCommand.south west)+(24,0)$);
\draw[e] ($(MemGetMembersObject.north)+(97,0)$) -- ($(SessionGetAttendance.south west)+(11,0)$);
\draw[e] (MemGetMembersObject) -- (CourseGetPrint);
% getMembersObject fan (lower)
\draw[e] ($(MemGetMembersObject.south east)+(-8,0)$) .. controls (1320,-1302) and (1500,-1312) .. ($(MemPrintForMembers.south west)+(0,10)$);
\draw[e] ($(MemGetMembersObject.south east)+(-4,0)$) .. controls (1295,-1400) and (1360,-1430) .. ($(MemPrintMembersOutput.north west)+(0,-9)$);
\draw[e] ($(MemGetMembersObject.south)+(91,0)$) .. controls (1295,-1315) and (1315,-1355) .. ($(MemInitAttendance.north west)+(6,0)$);
\draw[e] ($(MemGetMembersObject.south)+(87,0)$) .. controls (1289,-1348) and (1310,-1456) .. ($(MemRefuseFromList.west)+(0,7)$);
\draw[e] ($(MemGetMembersObject.south)+(83,0)$) .. controls (1285,-1363) and (1305,-1506) .. ($(MemRefuseSubscribers.west)+(0,7)$);
\draw[e] ($(MemGetMembersObject.south)+(79,0)$) .. controls (1281,-1378) and (1300,-1557) .. ($(MemUpdateParticipants.west)+(0,7)$);
\draw[e] ($(MemGetMembersObject.south)+(75,0)$) .. controls (1277,-1396) and (1310,-1616) .. ($(GroupUpdatePartStatus.west)+(0,7)$);
\draw[e] ($(MemGetMembersObject.south)+(71,0)$) .. controls (1273,-1415) and (1310,-1682) .. ($(CourseUpdatePartStatus.west)+(0,7)$);
\draw[e] ($(MemGetMembersObject.south)+(67,0)$) .. controls (1269,-1435) and (1295,-1720) .. (MemParseSubscriber.north west);
\draw[e] (MemParseSubscriber.north west) .. controls (1300,-1700) and (1300,-1358) .. (1260,-1338) .. controls (1200,-1308) and (1100,-1322) .. ($(MemParticipants.east)+(0,5)$);

% ---------- column 6 <- column 7 ----------
\draw[e] (MemDeleteParticipants) -- (CourseDeleteLinked);
\draw[e] (MemEditParticipants) -- (MemEditMember);
\draw[e] ($(MemInitAttendance.north)+(71,0)$) .. controls (1570,-1350) and (1590,-1320) .. ($(MemPrintForMembers.south west)+(5,0)$);
\draw[e] (MemInitAttendance) -- (LSMPrintMembers);
\draw[e] (MemInitAttendance) -- (MemPrintMembers);
\draw[e] ($(MemInitAttendance.south)+(62,0)$) .. controls (1560,-1405) and (1590,-1425) .. ($(MemPrintMembersOutput.north west)+(30,0)$);
\draw[e] (SoapAddReferences) -- (SoapGetXMLTree);
\draw[e] (RemoteCreateFromECS) -- (RemoteHandleUpdate);
\draw[e] (OerHarvestObject) -- (OerHarvest);
\draw[e] ($(Object2GUIPutObjectInTree.north)+(17,0)$) .. controls (1520,-2480) and (1590,-2420) .. ($(LTICreateNew.south west)+(0,2)$);
\draw[e] ($(Object2GUIPutObjectInTree.north)+(38,0)$) -- ($(ExerciseVerifSave.south west)+(14,0)$);
\draw[e] (Object2GUIPutObjectInTree) -- (SCORMVerifSave);
\draw[e] (Object2GUIPutObjectInTree) -- (LTIVerifSave);
\draw[e] ($(Object2GUIPutObjectInTree.south)+(36,0)$) -- ($(CmiXapiVerifSave.north west)+(8,0)$);
\draw[e] ($(Object2GUIPutObjectInTree.south)+(24,0)$) .. controls (1530,-2600) and (1590,-2660) .. ($(CourseVerifSave.north west)+(30,0)$);
\draw[e] ($(Object2GUIPutObjectInTree.south)+(14,0)$) .. controls (1510,-2620) and (1570,-2690) .. ($(TestVerifSave.north west)+(18,0)$);
\draw[e] ($(ObjectGUIPutObjectInTree.north)+(18,0)$) .. controls (1520,-2895) and (1590,-2845) .. (FileBasedCreateFromDir.south west);
\draw[e] ($(ObjectGUIPutObjectInTree.north)+(40,0)$) -- ($(SurveyQPImport.south west)+(27,0)$);
\draw[e] (ObjectGUIPutObjectInTree) -- (ObjectGUIImportFile);
\draw[e] (ObjectGUIPutObjectInTree) -- (SurveyImportSurvey);
\draw[e] ($(ObjectGUIPutObjectInTree.south)+(36,0)$) -- ($(EmployeeTalkSave.north west)+(23,0)$);
\draw[e] ($(ObjectGUIPutObjectInTree.south)+(24,0)$) .. controls (1530,-3020) and (1590,-3075) .. ($(GlossarySave.north west)+(22,0)$);
\draw[e] ($(ObjectGUIPutObjectInTree.south)+(14,0)$) .. controls (1505,-3040) and (1570,-3115) .. (ObjectGUISaveObject.north west);

% ---------- column 7 <- column 8 ----------
\draw[e] (RemoteHandleUpdate) -- (RemoteHandleCreate);
\draw[e] (OerHarvest) -- (OerRun);
\draw[e] (LTICreateNew) -- (LTISaveCustom);
\draw[e] (FileBasedCreateFromDir) -- (FileBasedImport);
\draw[e] (ObjectGUIImportFile) -- (OrgUnitExecute);
\draw[e] (ObjectGUIImportFile) -- (LSExecute);
\draw[e] (ObjectGUISaveObject) -- (SessionSaveAndAssign);
\end{tikzpicture}
\end{document}
